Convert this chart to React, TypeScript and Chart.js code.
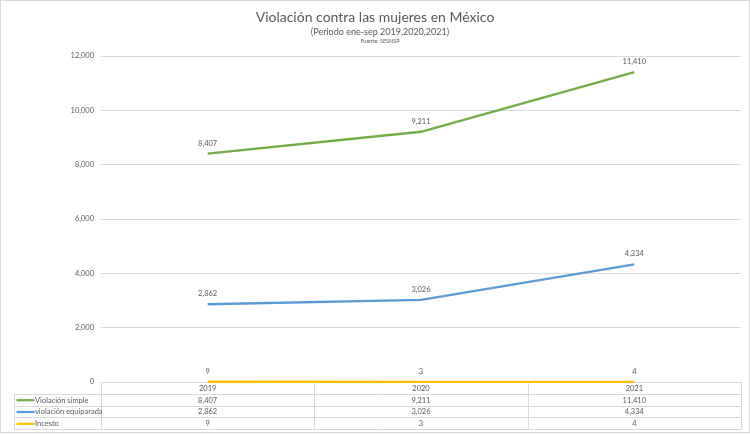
import React, { useEffect, useRef } from "react";
import { Chart, registerables } from "chart.js";

Chart.register(...registerables);

const titleText = "Violación contra las mujeres en México";
const subtitleText = "(Periodo ene-sep 2019,2020,2021)";
const sourceText = "Fuente: SESNSP";

const categories = ["2019", "2020", "2021"];
const violacionSimple = [8407, 9211, 11410];
const violacionEquiparada = [2862, 3026, 4334];
const incesto = [9, 3, 4];

const seriesNames = ["Violación simple", "violación equiparada", "Incesto"];
const seriesColors = ["#70AD47", "#5B9BD5", "#FFC000"];

const yMin = 0;
const yMax = 12000;
const yStep = 2000;

const FONT = "Lato";
const TEXT = "#595959";
const GRID = "#d9d9d9";

const fmt = (v: number) => v.toLocaleString("en-US");

const bgPlugin = {
  id: "bgAndTitles",
  beforeDraw(chart: any) {
    const ctx = chart.ctx;
    ctx.save();
    ctx.fillStyle = "#ffffff";
    ctx.fillRect(0, 0, chart.width, chart.height);
    ctx.restore();
  },
  afterDraw(chart: any) {
    const ctx = chart.ctx;
    ctx.save();
    ctx.fillStyle = TEXT;
    ctx.textAlign = "center";
    ctx.textBaseline = "middle";
    ctx.font = `14px ${FONT}`;
    ctx.fillText(titleText, 375, 17.5);
    ctx.font = `9px ${FONT}`;
    ctx.fillText(subtitleText, 380, 32.5);
    ctx.font = `5.5px ${FONT}`;
    ctx.fillText(sourceText, 380, 41.5);
    ctx.strokeStyle = GRID;
    ctx.lineWidth = 1;
    ctx.strokeRect(0.5, 0.5, chart.width - 1, 432);
    ctx.restore();
  },
};

const labelPlugin = {
  id: "dataLabels",
  afterDatasetsDraw(chart: any) {
    const ctx = chart.ctx;
    ctx.save();
    ctx.fillStyle = TEXT;
    ctx.font = `7.5px ${FONT}`;
    ctx.textAlign = "center";
    ctx.textBaseline = "middle";
    chart.data.datasets.forEach((ds: any, di: number) => {
      const meta = chart.getDatasetMeta(di);
      meta.data.forEach((el: any, i: number) => {
        ctx.fillText(fmt(ds.data[i]), el.x, el.y - 10.5);
      });
    });
    ctx.restore();
  },
};

const ROW_H = 11.8;
const LEGEND_X = 14.5;

function columnBounds(chart: any) {
  const area = chart.chartArea;
  const xs = chart.scales.x;
  const n = categories.length;
  const bounds: number[] = [area.left];
  for (let i = 0; i < n - 1; i++) {
    bounds.push((xs.getPixelForValue(i) + xs.getPixelForValue(i + 1)) / 2);
  }
  bounds.push(area.right);
  return bounds;
}

const tablePlugin = {
  id: "dataTable",
  beforeDatasetsDraw(chart: any) {
    const ctx = chart.ctx;
    const area = chart.chartArea;
    const xb = area.right;
    const top = area.bottom;
    const rows = seriesNames.length;
    const bounds = columnBounds(chart);
    const bottom = Math.round(top + ROW_H * (rows + 1)) + 0.5;
    ctx.save();
    ctx.strokeStyle = GRID;
    ctx.lineWidth = 1;
    ctx.beginPath();
    for (let r = 1; r <= rows + 1; r++) {
      const y = Math.round(top + ROW_H * r) + 0.5;
      ctx.moveTo(LEGEND_X, y);
      ctx.lineTo(xb, y);
    }
    bounds.forEach((bx) => {
      const x = Math.round(bx) + 0.5;
      ctx.moveTo(x, top);
      ctx.lineTo(x, bottom);
    });
    ctx.moveTo(LEGEND_X, Math.round(top + ROW_H) + 0.5);
    ctx.lineTo(LEGEND_X, bottom);
    ctx.stroke();
    ctx.restore();
  },
  afterDraw(chart: any) {
    const ctx = chart.ctx;
    const xs = chart.scales.x;
    const top = chart.chartArea.bottom;
    ctx.save();
    ctx.fillStyle = TEXT;
    ctx.font = `7.5px ${FONT}`;
    ctx.textAlign = "center";
    ctx.textBaseline = "middle";
    categories.forEach((c, i) => {
      ctx.fillText(c, xs.getPixelForValue(i), top + ROW_H * 0.5 + 0.5);
    });
    chart.data.datasets.forEach((ds: any, di: number) => {
      const yc = top + ROW_H * (di + 1.5) + 0.5;
      ds.data.forEach((v: number, i: number) => {
        ctx.textAlign = "center";
        ctx.fillText(fmt(v), xs.getPixelForValue(i), yc);
      });
      ctx.strokeStyle = ds.borderColor;
      ctx.lineWidth = 2.2;
      ctx.beginPath();
      ctx.moveTo(16.5, yc);
      ctx.lineTo(34.5, yc);
      ctx.stroke();
      ctx.textAlign = "left";
      ctx.fillText(ds.label, 35, yc);
    });
    ctx.restore();
  },
};

export default function App() {
  const ref = useRef<HTMLCanvasElement | null>(null);
  useEffect(() => {
    if (!ref.current) return;
    Chart.defaults.font.family = FONT;
    const chart = new Chart(ref.current, {
      type: "line",
      data: {
        labels: categories,
        datasets: [
          { label: seriesNames[0], data: violacionSimple, borderColor: seriesColors[0], backgroundColor: seriesColors[0] },
          { label: seriesNames[1], data: violacionEquiparada, borderColor: seriesColors[1], backgroundColor: seriesColors[1] },
          { label: seriesNames[2], data: incesto, borderColor: seriesColors[2], backgroundColor: seriesColors[2] },
        ].map((d) => ({
          ...d,
          borderWidth: 2.3,
          pointRadius: 0,
          pointHoverRadius: 0,
          tension: 0,
          fill: false,
          clip: false,
        })),
      },
      options: {
        animation: false,
        responsive: false,
        devicePixelRatio: 1,
        layout: { padding: { left: 61, right: 9, top: 56, bottom: 52 } },
        plugins: {
          legend: { display: false },
          title: { display: false },
          tooltip: { enabled: false },
        },
        scales: {
          x: { type: "category", display: false, offset: true },
          y: {
            min: yMin,
            max: yMax,
            afterFit: (s: any) => {
              s.width = 40;
            },
            ticks: {
              stepSize: yStep,
              padding: 7,
              color: TEXT,
              font: { size: 7.5, family: FONT },
              callback: (v: any) => fmt(Number(v)),
            },
            grid: { color: GRID, drawTicks: false, lineWidth: 1 },
            border: { display: false },
          },
        },
      },
      plugins: [bgPlugin, labelPlugin, tablePlugin],
    } as any);
    return () => chart.destroy();
  }, []);
  return (
    <div style={{ position: "fixed", left: 0, top: 0, width: 750, height: 434, background: "#fff" }}>
      <canvas ref={ref} width={750} height={434} style={{ display: "block", width: 750, height: 434 }} />
    </div>
  );
}
